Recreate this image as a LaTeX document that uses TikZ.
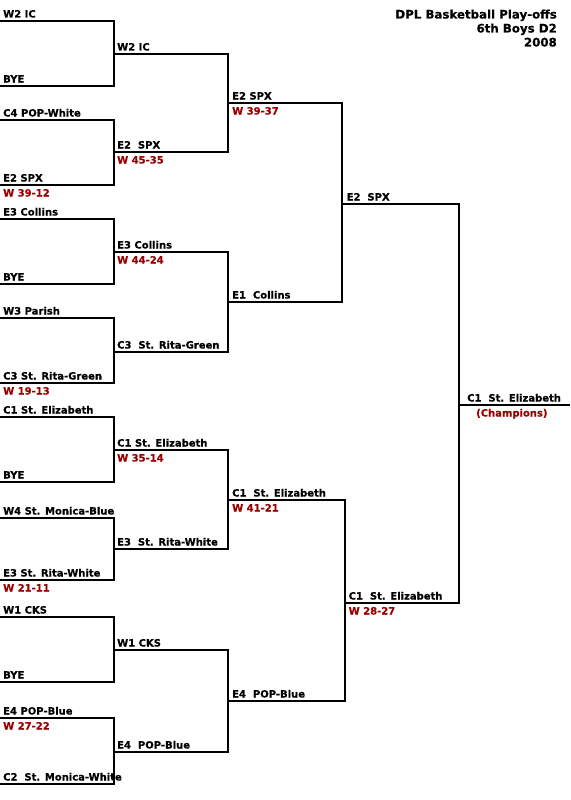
\documentclass[tikz,border=0pt]{standalone}
\usepackage{fontspec}
\setmainfont{DejaVu Sans}[BoldFeatures={FakeBold=0.4}]
\definecolor{scorered}{RGB}{155,0,0}
\begin{document}
\begin{tikzpicture}[x=1pt,y=-1pt,
  bline/.style={line width=2.2pt,line join=miter,line cap=butt},
  team/.style={anchor=base west,inner sep=0pt,font=\fontsize{10}{12}\selectfont\bfseries},
  score/.style={team,text=scorered},
  ttl/.style={anchor=base east,inner sep=0pt,font=\fontsize{11.8}{14}\selectfont\bfseries}]
\fill[white] (0,0) rectangle (570,800);
\useasboundingbox (0,0) rectangle (570,800);
% title
\node[ttl] (title1) at (557,18.5) {DPL Basketball Play-offs};
\node[ttl] (title2) at (557,32.5) {6th Boys D2};
\node[ttl] (title3) at (557,46.5) {2008};
% round 1
\foreach \k/\t/\b in {1/21/86,2/120/185,3/219/284,4/318/383,5/417/482,6/518/580,7/617/682,8/718/784}{
  \coordinate (p\k-t) at (0,\t);
  \coordinate (p\k-tc) at (114,\t);
  \coordinate (p\k-bc) at (114,\b);
  \coordinate (p\k-b) at (0,\b);
  \draw[bline] (p\k-t) -- (p\k-tc) -- (p\k-bc) -- (p\k-b);
}
% round 2
\foreach \k/\t/\b in {1/54/152,2/252/352,3/450/549,4/650/752}{
  \coordinate (q\k-t) at (114,\t);
  \coordinate (q\k-tc) at (228,\t);
  \coordinate (q\k-bc) at (228,\b);
  \coordinate (q\k-b) at (114,\b);
  \draw[bline] (q\k-t) -- (q\k-tc) -- (q\k-bc) -- (q\k-b);
}
% round 3
\coordinate (s1-t) at (228,103); \coordinate (s1-tc) at (342,103);
\coordinate (s1-bc) at (342,302); \coordinate (s1-b) at (228,302);
\coordinate (s2-t) at (228,500); \coordinate (s2-tc) at (345,500);
\coordinate (s2-bc) at (345,701); \coordinate (s2-b) at (228,701);
\draw[bline] (s1-t) -- (s1-tc) -- (s1-bc) -- (s1-b);
\draw[bline] (s2-t) -- (s2-tc) -- (s2-bc) -- (s2-b);
% final
\coordinate (f-t) at (342,204); \coordinate (f-tc) at (459,204);
\coordinate (f-bc) at (459,603); \coordinate (f-b) at (345,603);
\draw[bline] (f-t) -- (f-tc) -- (f-bc) -- (f-b);
\coordinate (ch) at (459,405); \coordinate (ch-e) at (570,405);
\draw[bline] (ch) -- (ch-e);
% round 1 labels
\node[team] (l1t) at ([shift={(3,-3.5)}]p1-t) {W2 IC};
\node[team] (l1b) at ([shift={(3,-3.5)}]p1-b) {BYE};
\node[team] (l2t) at ([shift={(3,-3.5)}]p2-t) {C4 POP-White};
\node[team] (l2b) at ([shift={(3,-3.5)}]p2-b) {E2 SPX};
\node[score] (l2s) at ([shift={(3,11.5)}]p2-b) {W 39-12};
\node[team] (l3t) at ([shift={(3,-3.5)}]p3-t) {E3 Collins};
\node[team] (l3b) at ([shift={(3,-3.5)}]p3-b) {BYE};
\node[team] (l4t) at ([shift={(3,-3.5)}]p4-t) {W3 Parish};
\node[team] (l4b) at ([shift={(3,-3.5)}]p4-b) {C3 St. Rita-Green};
\node[score] (l4s) at ([shift={(3,11.5)}]p4-b) {W 19-13};
\node[team] (l5t) at ([shift={(3,-3.5)}]p5-t) {C1 St. Elizabeth};
\node[team] (l5b) at ([shift={(3,-3.5)}]p5-b) {BYE};
\node[team] (l6t) at ([shift={(3,-3.5)}]p6-t) {W4 St. Monica-Blue};
\node[team] (l6b) at ([shift={(3,-3.5)}]p6-b) {E3 St. Rita-White};
\node[score] (l6s) at ([shift={(3,11.5)}]p6-b) {W 21-11};
\node[team] (l7t) at ([shift={(3,-3.5)}]p7-t) {W1 CKS};
\node[team] (l7b) at ([shift={(3,-3.5)}]p7-b) {BYE};
\node[team] (l8t) at ([shift={(3,-3.5)}]p8-t) {E4 POP-Blue};
\node[score] (l8s) at ([shift={(3,11.5)}]p8-t) {W 27-22};
\node[team] (l8b) at ([shift={(3,-3.5)}]p8-b) {C2\ \ St. Monica-White};
% round 2 labels
\node[team] (m1t) at ([shift={(3,-3.5)}]q1-t) {W2 IC};
\node[team] (m1b) at ([shift={(3,-3.5)}]q1-b) {E2\ \ SPX};
\node[score] (m1s) at ([shift={(3,11.5)}]q1-b) {W 45-35};
\node[team] (m2t) at ([shift={(3,-3.5)}]q2-t) {E3 Collins};
\node[score] (m2s) at ([shift={(3,11.5)}]q2-t) {W 44-24};
\node[team] (m2b) at ([shift={(3,-3.5)}]q2-b) {C3\ \ St. Rita-Green};
\node[team] (m3t) at ([shift={(3,-3.5)}]q3-t) {C1 St. Elizabeth};
\node[score] (m3s) at ([shift={(3,11.5)}]q3-t) {W 35-14};
\node[team] (m3b) at ([shift={(3,-3.5)}]q3-b) {E3\ \ St. Rita-White};
\node[team] (m4t) at ([shift={(3,-3.5)}]q4-t) {W1 CKS};
\node[team] (m4b) at ([shift={(3,-3.5)}]q4-b) {E4\ \ POP-Blue};
% round 3 labels
\node[team] (n1t) at ([shift={(4,-3.5)}]s1-t) {E2 SPX};
\node[score] (n1s) at ([shift={(4,11.5)}]s1-t) {W 39-37};
\node[team] (n1b) at ([shift={(4,-3.5)}]s1-b) {E1\ \ Collins};
\node[team] (n2t) at ([shift={(4,-3.5)}]s2-t) {C1\ \ St. Elizabeth};
\node[score] (n2s) at ([shift={(4,11.5)}]s2-t) {W 41-21};
\node[team] (n2b) at ([shift={(4,-3.5)}]s2-b) {E4\ \ POP-Blue};
% round 4 labels
\node[team] (o1t) at ([shift={(4.5,-3.5)}]f-t) {E2\ \ SPX};
\node[team] (o1b) at ([shift={(3.5,-3.5)}]f-b) {C1\ \ St. Elizabeth};
\node[score] (o1s) at ([shift={(3.5,11.5)}]f-b) {W 28-27};
% champion
\node[team] (chn) at ([shift={(8,-3.5)}]ch) {C1\ \ St. Elizabeth};
\node[score] (chs) at ([shift={(17,11.5)}]ch) {(Champions)};
\end{tikzpicture}
\end{document}
